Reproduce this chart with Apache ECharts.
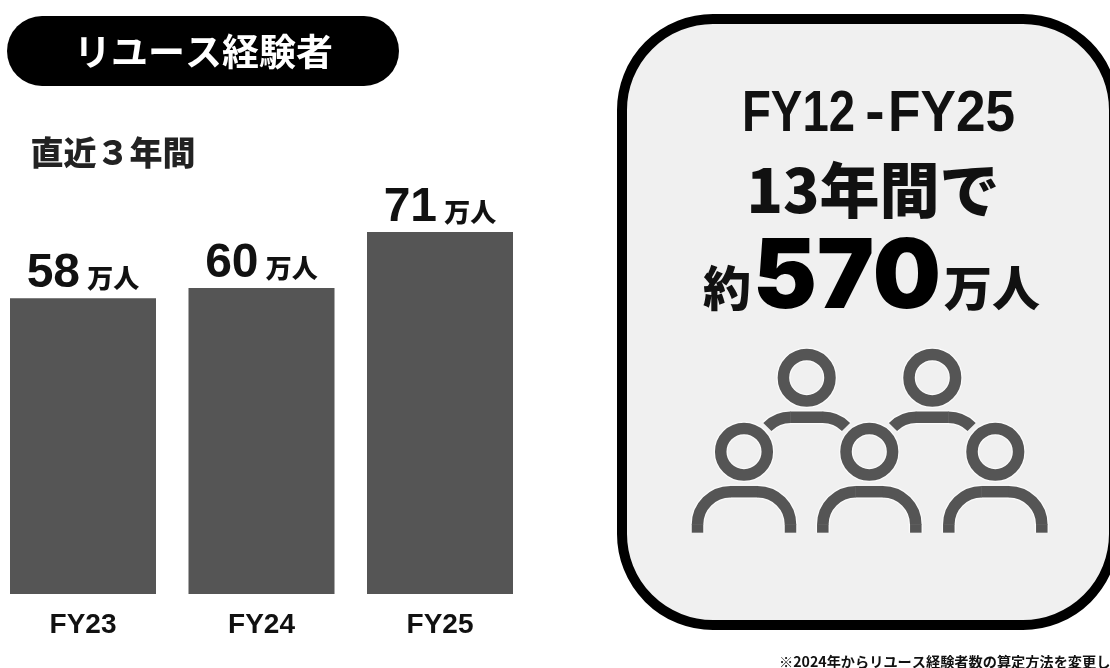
<!DOCTYPE html>
<html><head><meta charset="utf-8">
<style>html,body{margin:0;padding:0;background:#fff;overflow:hidden}#c{width:1110px;height:668px}</style>
<script src="https://cdn.jsdelivr.net/npm/echarts@6/dist/echarts.min.js"></script>
</head><body><div id="c"></div>
<script>
const categories = ['FY23', 'FY24', 'FY25'];
const values = [58, 60, 71];
const unit = '万人';

const JP = '"Noto Sans CJK JP"';
const LAT = '"Liberation Sans"';
const INK = '#555555';
const chart = echarts.init(document.getElementById('c'), null, {renderer: 'canvas'});

function txt(text, x, y, size, opt) {
  opt = opt || {};
  const el = {type: 'text', z: 10, x: x, y: y, style: {
    text: text, fontFamily: opt.font || JP, fontSize: size, fontWeight: opt.weight || 900,
    fill: opt.fill || '#111', align: opt.align || 'center', verticalAlign: 'middle'
  }};
  if (opt.scaleX) { el.scaleX = opt.scaleX; }
  return el;
}
function icon() {
  const upper = [[806.7, 377.7], [932.3, 377.7]];
  const lower = [[744, 451.7], [869.3, 451.7], [995.3, 451.7]];
  const out = [];
  const PI = Math.PI;
  [['#fbfbfb', 14], [INK, 11.5]].forEach(function (s, i) {
    const ls = {stroke: s[0], fill: 'none', lineWidth: s[1], lineCap: 'butt'};
    const z = 5 + i;
    function arc(cx, cy, a0, a1) {
      out.push({type: 'arc', z: z, shape: {cx: cx, cy: cy, r: 33, startAngle: a0, endAngle: a1, clockwise: true}, style: ls});
    }
    function line(x1, y1, x2, y2) {
      out.push({type: 'line', z: z, shape: {x1: x1, y1: y1, x2: x2, y2: y2}, style: ls});
    }
    upper.concat(lower).forEach(function (p) {
      out.push({type: 'circle', z: z, shape: {cx: p[0], cy: p[1], r: 23.3}, style: ls});
    });
    upper.forEach(function (p) {
      const c = p[0], t = 417.3;
      arc(c - 16, t + 33, -0.75 * PI, -0.5 * PI);
      line(c - 16.5, t, c + 16.5, t);
      arc(c + 16, t + 33, -0.5 * PI, -0.25 * PI);
    });
    lower.forEach(function (p) {
      const c = p[0], t = 491.7, b = 532.7;
      line(c - 46.5, b, c - 46.5, t + 32.5);
      arc(c - 13.5, t + 33, -PI, -0.5 * PI);
      line(c - 14, t, c + 14, t);
      arc(c + 13.5, t + 33, -0.5 * PI, 0);
      line(c + 46.5, b, c + 46.5, t + 32.5);
    });
  });
  return out;
}

chart.setOption({
  animation: false,
  backgroundColor: '#ffffff',
  grid: {left: -6.25, width: 535.5, top: 84, height: 510, outerBoundsMode: 'none', containLabel: false},
  xAxis: {
    type: 'category', data: categories,
    axisLine: {show: false}, axisTick: {show: false},
    axisLabel: {margin: 17, color: '#111', fontFamily: LAT, fontWeight: 'bold', fontSize: 28}
  },
  yAxis: {type: 'value', min: 0, max: 100, show: false, splitLine: {show: false}},
  series: [{
    type: 'bar', data: values, barWidth: 146,
    itemStyle: {color: INK},
    label: {
      show: true, position: 'top', distance: 0,
      formatter: function (p) { return '{n|' + p.value + '} {u|' + unit + '}'; },
      rich: {
        n: {fontFamily: LAT, fontWeight: 'bold', fontSize: 48, color: '#111'},
        u: {fontFamily: JP, fontWeight: 900, fontSize: 26, color: '#111', padding: [8, 0, 0, 4]}
      }
    }
  }],
  graphic: [
    {type: 'rect', z: 1, shape: {x: 7, y: 16, width: 392, height: 70, r: 35}, style: {fill: '#000'}},
    txt('リユース経験者', 203.5, 52, 37, {fill: '#fff', weight: 700}),
    txt('直近３年間', 113, 152, 33, {fill: '#222'}),
    {type: 'rect', z: 1, shape: {x: 622, y: 19, width: 492, height: 606, r: 91},
      style: {fill: '#f0f0f0', stroke: '#000', lineWidth: 10}},
    txt('FY12', 742, 115, 58, {font: LAT, weight: 'bold', align: 'left', scaleX: 0.815}),
    txt('-', 875, 115, 58, {font: LAT, weight: 'bold'}),
    txt('FY25', 888, 115, 58, {font: LAT, weight: 'bold', align: 'left', scaleX: 0.916}),
    txt('13年間で', 873, 190, 60),
    txt('約', 727, 288, 48),
    txt('570', 847, 279, 96, {font: 'Inter', weight: 900, fill: '#000'}),
    txt('万人', 992, 288, 48),
    txt('※2024年からリユース経験者数の算定方法を変更し', 779, 662, 14.2, {align: 'left', weight: 700})
  ].concat(icon())
});
</script></body></html>
